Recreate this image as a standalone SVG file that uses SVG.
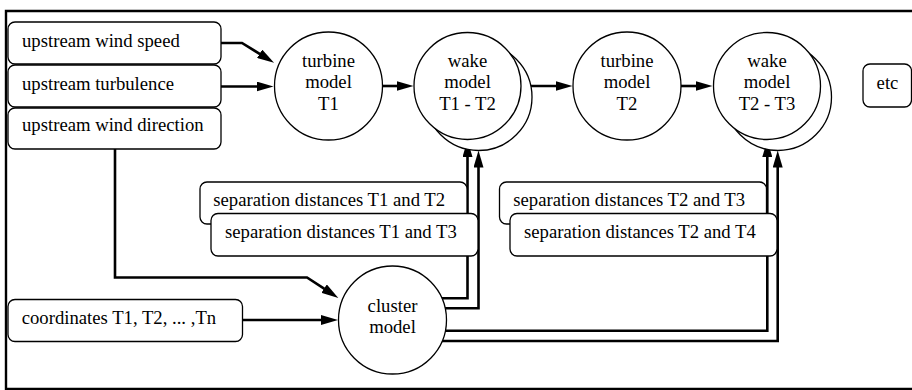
<svg xmlns="http://www.w3.org/2000/svg" width="912" height="390" viewBox="0 0 912 390">
<style>
.box{fill:#fff;stroke:#000;stroke-width:1.3}
.circ{fill:#fff;stroke:#000;stroke-width:1.3}
.c{text-anchor:middle}
.con{fill:none;stroke:#000;stroke-width:2.6;marker-end:url(#arr)}
.frame{fill:none;stroke:#000;stroke-width:2.4}
</style>
<defs>
<marker id="arr" markerUnits="userSpaceOnUse" markerWidth="17" markerHeight="10" viewBox="0 0 17 10" refX="0.5" refY="5" orient="auto">
<path d="M0,0 L17,5 L0,10 z" fill="#000"/>
</marker>
</defs>
<rect width="912" height="390" fill="#fff"/>
<path class="frame" d="M913,11 H6 V389 H913"/>
<g id="connectors">
<path class="con" d="M221,43 H242 L260,54.1"/>
<path class="con" d="M221,86.5 H257"/>
<path class="con" d="M382,86 H397"/>
<path class="con" d="M520,86 H556"/>
<path class="con" d="M680,86 H696"/>
<path class="con" d="M115,149 V277.5 H307 L324.5,288.9"/>
<path class="con" d="M242,320 H321.5"/>
<path class="con" d="M420,298.3 H467.5 V156.5"/>
<path class="con" d="M420,308.3 H478.5 V167"/>
<path class="con" d="M420,330.7 H767.3 V156.5"/>
<path class="con" d="M420,341 H777.7 V167"/>
</g>
<g id="nodes" font-family="Liberation Serif, Times New Roman, serif" font-size="18.7" fill="#000">
<g id="upstream-wind-speed">
<rect class="box" x="8" y="22" width="213" height="42" rx="7"/>
<text x="22" y="46.5">upstream wind speed</text>
</g>
<g id="upstream-turbulence">
<rect class="box" x="8" y="65" width="213" height="42" rx="7"/>
<text x="22" y="89.5">upstream turbulence</text>
</g>
<g id="upstream-wind-direction">
<rect class="box" x="8" y="108" width="213" height="41" rx="7"/>
<text x="22" y="131">upstream wind direction</text>
</g>
<g id="turbine-model-t1">
<circle class="circ" cx="328.5" cy="86" r="54"/>
<text class="c" x="328.5" y="66.5">turbine</text>
<text class="c" x="328.5" y="88.3">model</text>
<text class="c" x="328.5" y="110">T1</text>
</g>
<g id="wake-model-t1-t2">
<circle class="circ" cx="478.5" cy="97" r="53.5"/>
<circle class="circ" cx="467.5" cy="86" r="53.5"/>
<text class="c" x="467.5" y="66.5">wake</text>
<text class="c" x="467.5" y="88.3">model</text>
<text class="c" x="467.5" y="110">T1 - T2</text>
</g>
<g id="turbine-model-t2">
<circle class="circ" cx="627" cy="86" r="54"/>
<text class="c" x="627" y="66.5">turbine</text>
<text class="c" x="627" y="88.3">model</text>
<text class="c" x="627" y="110">T2</text>
</g>
<g id="wake-model-t2-t3">
<circle class="circ" cx="778" cy="97" r="53.5"/>
<circle class="circ" cx="767" cy="86" r="53.5"/>
<text class="c" x="767" y="66.5">wake</text>
<text class="c" x="767" y="88.3">model</text>
<text class="c" x="767" y="110">T2 - T3</text>
</g>
<g id="etc">
<rect class="box" x="863" y="64" width="48.5" height="43" rx="7"/>
<text class="c" x="887.5" y="89">etc</text>
</g>
<g id="sep-t1-t2">
<rect class="box" x="200" y="182" width="267" height="42" rx="7"/>
<text x="213.3" y="206">separation distances T1 and T2</text>
</g>
<g id="sep-t1-t3">
<rect class="box" x="211" y="213.5" width="267" height="42.5" rx="7"/>
<text x="225" y="238">separation distances T1 and T3</text>
</g>
<g id="sep-t2-t3">
<rect class="box" x="499.5" y="182" width="267" height="42" rx="7"/>
<text x="513.3" y="206">separation distances T2 and T3</text>
</g>
<g id="sep-t2-t4">
<rect class="box" x="510" y="213.5" width="267" height="42.5" rx="7"/>
<text x="524" y="238">separation distances T2 and T4</text>
</g>
<g id="coordinates">
<rect class="box" x="8" y="299.5" width="234.5" height="42" rx="7"/>
<text x="21.7" y="323.5">coordinates T1, T2, ... ,Tn</text>
</g>
<g id="cluster-model">
<circle class="circ" cx="392.5" cy="320" r="54"/>
<text class="c" x="392.5" y="311.7">cluster</text>
<text class="c" x="392.5" y="333.3">model</text>
</g>
</g>
</svg>
